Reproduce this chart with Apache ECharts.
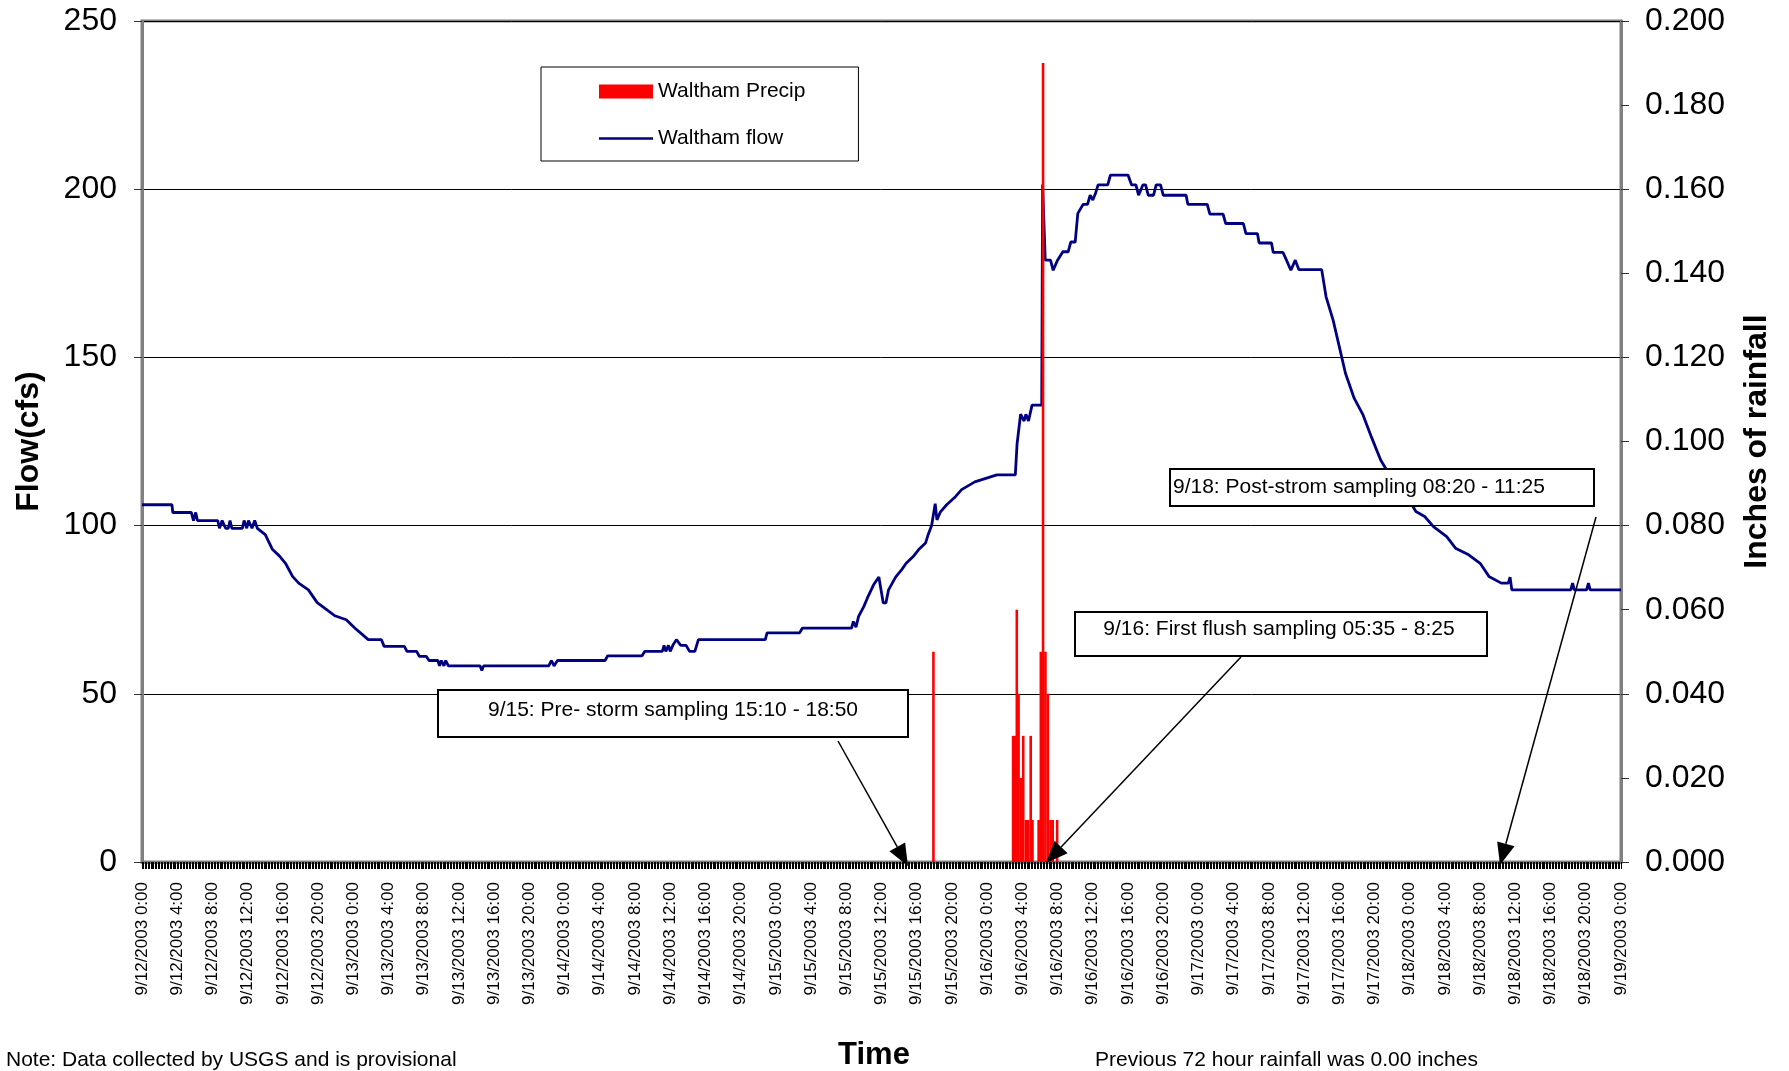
<!DOCTYPE html>
<html>
<head>
<meta charset="utf-8">
<title>Waltham flow and precipitation</title>
<script src="https://cdn.jsdelivr.net/npm/echarts@6.0.0/dist/echarts.min.js"></script>
<style>
    html, body { margin: 0; padding: 0; background: #fff; }
    #chart { width: 1789px; height: 1071px; }
</style>
</head>
<body>
<div id="chart"></div>
<script>
const FONT = '"Liberation Sans", Arial, sans-serif'

// hours counted from 9/12/2003 0:00
const flowHours = [
    0, 3.4, 3.5, 5.6, 5.85, 6.1, 6.3, 8.6, 8.8, 9.1, 9.3, 9.5, 9.8, 10.0, 10.2, 11.4, 11.6, 11.9, 12.1, 12.3,
    12.5, 12.8, 13.1, 13.3, 14.0, 14.8, 15.6, 16.3, 17.1, 17.8, 18.9, 19.9, 20.9, 21.9, 23.2, 24.2, 25.7, 27.2, 27.5, 29.8,
    30.1, 31.2, 31.5, 32.3, 32.6, 33.6, 33.8, 34.0, 34.3, 34.5, 34.8, 38.4, 38.6, 38.8, 46.2, 46.5, 46.8, 47.2, 52.6, 52.9,
    56.8, 57.1, 59.1, 59.3, 59.5, 59.8, 60.0, 60.3, 60.7, 61.2, 61.8, 62.2, 62.8, 63.2, 70.8, 71.0, 74.7, 75.0, 80.6, 80.8,
    81.1, 81.4, 82.0, 82.4, 83.1, 83.7, 84.2, 84.5, 84.8, 85.6, 86.3, 86.8, 87.6, 88.2, 89.0, 89.3, 89.7, 90.1, 90.3, 90.7,
    91.4, 92.4, 93.1, 94.6, 97.1, 99.2, 99.4, 99.8, 100.2, 100.4, 100.7, 101.1, 102.2, 102.3, 102.6, 103.2, 103.5, 104.0, 104.6, 105.2,
    105.5, 106.0, 106.3, 106.9, 107.4, 107.7, 108.0, 108.3, 108.6, 109.7, 110.0, 112.0, 112.4, 112.9, 113.2, 113.7, 114.0, 114.3, 114.9, 115.2,
    115.7, 116.0, 118.6, 118.8, 121.0, 121.3, 122.8, 123.1, 125.1, 125.4, 126.7, 126.9, 128.3, 128.5, 129.6, 130.0, 130.5, 131.0, 131.4, 134.0,
    134.5, 135.3, 136.0, 136.7, 137.7, 138.7, 139.7, 140.7, 141.7, 142.7, 143.7, 144.7, 145.7, 146.7, 148.2, 149.2, 150.7, 152.0, 153.0, 154.4,
    155.2, 155.4, 155.6, 162.3, 162.5, 162.7, 164.1, 164.3, 164.5, 168.0,
]
const flowCfs = [
    106.2, 106.2, 103.9, 103.9, 101.5, 103.9, 101.5, 101.5, 99.2, 101.5, 101.5, 99.2, 99.2, 101.5, 99.2, 99.2, 101.5, 99.2, 101.5, 101.5,
    99.2, 101.5, 99.2, 99.2, 97.3, 93.0, 91.0, 88.8, 84.9, 82.9, 80.9, 77.1, 75.2, 73.2, 72.0, 69.5, 66.1, 66.1, 64.1, 64.1,
    62.6, 62.6, 61.1, 61.1, 59.9, 59.9, 58.3, 59.9, 58.3, 59.9, 58.3, 58.3, 56.9, 58.3, 58.3, 59.9, 58.3, 59.9, 59.9, 61.3,
    61.3, 62.6, 62.6, 64.4, 62.6, 64.4, 62.6, 64.4, 66.1, 64.4, 64.4, 62.6, 62.6, 66.1, 66.1, 68.1, 68.1, 69.5, 69.5, 71.5,
    69.8, 73.0, 76.0, 78.5, 82.4, 84.7, 77.0, 77.0, 80.9, 84.7, 86.9, 88.8, 90.8, 92.8, 94.8, 97.3, 100.1, 106.5, 101.7, 104.1,
    106.2, 108.6, 110.7, 113.0, 115.1, 115.1, 124.3, 133.1, 131.1, 133.1, 131.1, 135.8, 135.8, 201.4, 178.9, 178.9, 175.9, 178.9, 181.4, 181.4,
    184.3, 184.3, 192.8, 195.5, 195.5, 198.2, 196.8, 198.7, 201.3, 201.3, 204.2, 204.2, 201.3, 201.3, 198.2, 201.3, 201.3, 198.2, 198.2, 201.3,
    201.3, 198.2, 198.2, 195.5, 195.5, 192.6, 192.6, 189.8, 189.8, 186.8, 186.8, 184.0, 184.0, 181.2, 181.2, 178.9, 175.9, 178.9, 176.1, 176.1,
    168.0, 161.1, 153.2, 145.3, 137.8, 132.9, 126.0, 119.5, 115.1, 111.6, 108.6, 104.2, 102.7, 99.7, 96.7, 93.3, 91.3, 88.8, 84.9, 82.9,
    82.9, 84.7, 80.9, 80.9, 82.9, 80.9, 80.9, 82.9, 80.9, 80.9,
]
const precipHours = [89.9, 98.95, 99.15, 99.37, 99.57, 99.85, 100.1, 100.4, 100.65, 100.95, 101.15, 101.85, 102.1, 102.35, 102.62, 102.9, 103.2, 103.45, 103.95]
const precipInches = [0.05, 0.03, 0.03, 0.06, 0.04, 0.02, 0.03, 0.01, 0.01, 0.03, 0.01, 0.01, 0.05, 0.19, 0.05, 0.04, 0.01, 0.01, 0.01]

const firstDay = 12
const notes = [
    { text: 'Note: Data collected by USGS and is provisional', x: 6, y: 1060 },
    { text: 'Previous 72 hour rainfall was 0.00 inches', x: 1095, y: 1060 },
]
const callouts = [
    { text: '9/15: Pre- storm sampling 15:10 - 18:50', box: [438, 690, 470, 47], tx: 673, ty: 710, align: 'center', from: [838, 741], to: [908, 866] },
    { text: '9/16: First flush sampling 05:35 - 8:25', box: [1075, 612, 412, 44], tx: 1279, ty: 629, align: 'center', from: [1241, 657], to: [1046, 863] },
    { text: '9/18: Post-strom sampling 08:20 - 11:25', box: [1170, 469, 424, 37], tx: 1173, ty: 487, align: 'left', from: [1596, 517], to: [1500, 865] },
]

function arrowParts(from, to) {
    let dx = to[0] - from[0], dy = to[1] - from[1]
    let len = Math.sqrt(dx * dx + dy * dy)
    let ux = dx / len, uy = dy / len
    let bx = to[0] - ux * 22, by = to[1] - uy * 22
    return [
        { type: 'line', shape: { x1: from[0], y1: from[1], x2: bx, y2: by }, style: { stroke: '#000', lineWidth: 1.5 } },
        { type: 'polygon', shape: { points: [to, [bx - uy * 9, by + ux * 9], [bx + uy * 9, by - ux * 9]] }, style: { fill: '#000' } },
    ]
}

let graphics = []
callouts.forEach(c => {
    graphics.push({ type: 'rect', shape: { x: c.box[0], y: c.box[1], width: c.box[2], height: c.box[3] }, style: { fill: '#fff', stroke: '#000', lineWidth: 2 }, z: 10 })
    graphics.push({ type: 'text', style: { text: c.text, x: c.tx, y: c.ty, align: c.align, verticalAlign: 'middle', fontSize: 21, fontFamily: FONT, fill: '#000' }, z: 11 })
    graphics.push(...arrowParts(c.from, c.to).map(g => Object.assign(g, { z: 11 })))
})
notes.forEach(n => {
    graphics.push({ type: 'text', style: { text: n.text, x: n.x, y: n.y, verticalAlign: 'middle', fontSize: 21, fontFamily: FONT, fill: '#000' } })
})
graphics.push({ type: 'text', style: { text: 'Time', x: 874, y: 1055, align: 'center', verticalAlign: 'middle', fontSize: 31, fontWeight: 'bold', fontFamily: FONT, fill: '#000' } })

let option = {
    animation: false,
    backgroundColor: '#fff',
    textStyle: { fontFamily: FONT },
    grid: {
        left: 142,
        right: 168,
        top: 21,
        bottom: 209,
        show: true,
        borderColor: '#808080',
        borderWidth: 3,
    },
    legend: {
        data: [
            { name: 'Waltham Precip', icon: 'rect' },
            // thin bar keeps its aspect inside the 54x14 icon box, so it draws as a plain line
            { name: 'Waltham flow', icon: 'path://M0,0H54V2.6H0Z' },
        ],
        orient: 'vertical',
        left: 541,
        top: 67,
        padding: [14, 53, 12, 58],
        itemGap: 26,
        itemWidth: 54,
        itemHeight: 14,
        symbolKeepAspect: true,
        backgroundColor: '#fff',
        borderColor: '#000',
        borderWidth: 1,
        selectedMode: false,
        textStyle: { fontSize: 21, fontFamily: FONT, color: '#000' },
    },
    xAxis: {
        type: 'value',
        min: 0,
        max: 168,
        interval: 4,
        axisLine: { lineStyle: { color: '#808080', width: 3 } },
        axisTick: { length: 7, lineStyle: { color: '#000' } },
        minorTick: { show: true, splitNumber: 24, length: 7, lineStyle: { color: '#000' } },
        splitLine: { show: false },
        axisLabel: {
            rotate: 90,
            margin: 20,
            fontSize: 17,
            fontFamily: FONT,
            color: '#000',
            formatter: v => '9/' + (firstDay + Math.floor(v / 24)) + '/2003 ' + (v % 24) + ':00',
        },
    },
    yAxis: [
        {
            type: 'value',
            min: 0,
            max: 250,
            interval: 50,
            name: 'Flow(cfs)',
            nameLocation: 'middle',
            nameRotate: 90,
            nameGap: 97,
            nameTextStyle: { fontSize: 32, fontWeight: 'bold', fontFamily: FONT, color: '#000' },
            axisLine: { show: true, lineStyle: { color: '#808080', width: 3 } },
            axisTick: { show: true, length: 8, lineStyle: { color: '#333' } },
            axisLabel: { margin: 25, fontSize: 32, fontFamily: FONT, color: '#000' },
            splitLine: { lineStyle: { color: '#000', width: 1 } },
        },
        {
            type: 'value',
            min: 0,
            max: 0.2,
            interval: 0.02,
            position: 'right',
            name: 'Inches of rainfall',
            nameLocation: 'middle',
            nameRotate: 90,
            nameGap: 120,
            nameTextStyle: { fontSize: 32, fontWeight: 'bold', fontFamily: FONT, color: '#000' },
            axisLine: { show: true, lineStyle: { color: '#808080', width: 3 } },
            axisTick: { show: true, length: 8, lineStyle: { color: '#333' } },
            axisLabel: { margin: 24, fontSize: 32, fontFamily: FONT, color: '#000', formatter: v => v.toFixed(3) },
            splitLine: { show: false },
        },
    ],
    series: [
        {
            name: 'Waltham flow',
            type: 'line',
            yAxisIndex: 0,
            symbol: 'none',
            data: flowHours.map((h, i) => [h, flowCfs[i]]),
            lineStyle: { color: '#000080', width: 2.8 },
            itemStyle: { color: '#000080' },
            z: 2,
        },
        {
            name: 'Waltham Precip',
            type: 'bar',
            yAxisIndex: 1,
            barWidth: 2.6,
            data: precipHours.map((h, i) => [h, precipInches[i]]),
            itemStyle: { color: '#ff0000' },
            z: 3,
        },
    ],
    graphic: graphics,
}

let myChart = echarts.init(document.getElementById('chart'))
myChart.setOption(option, true)
</script>
</body>
</html>
